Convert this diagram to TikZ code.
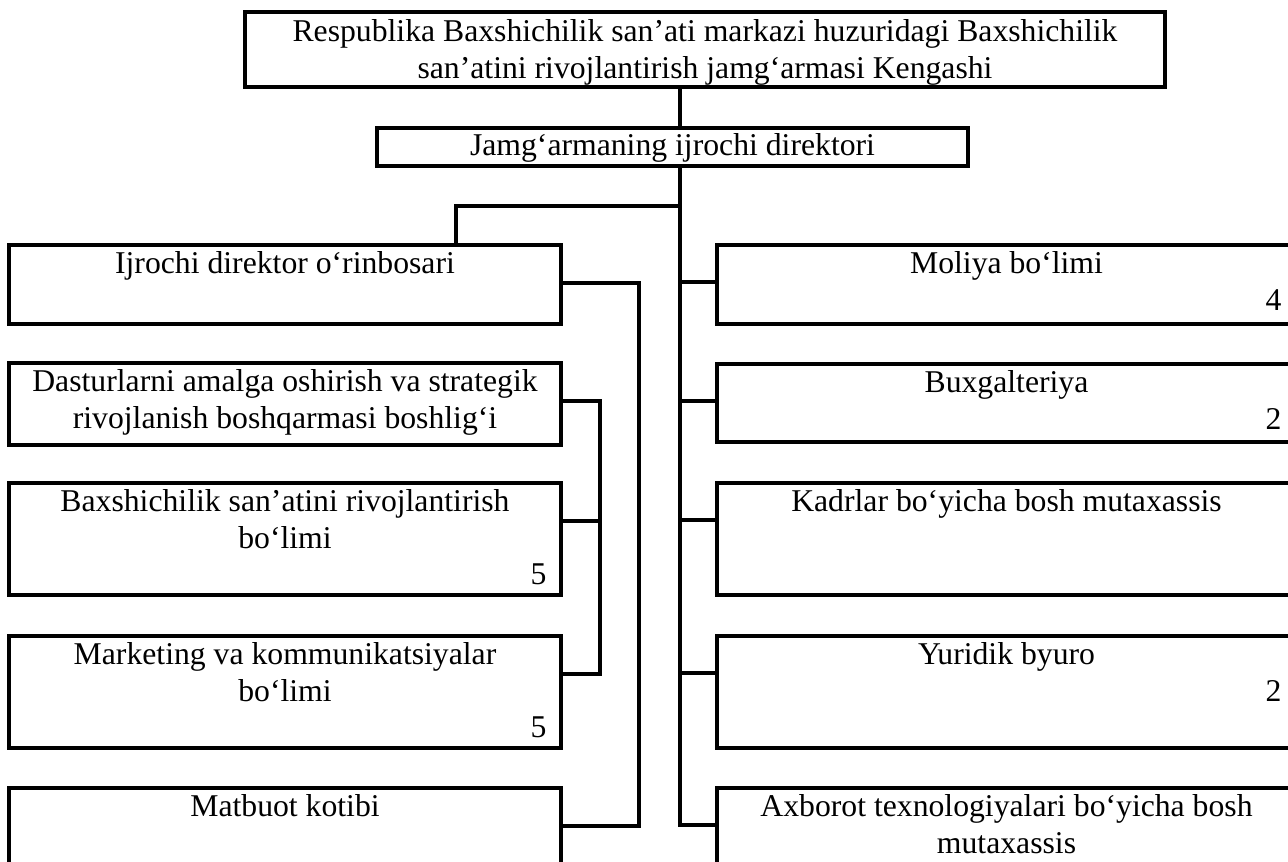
\documentclass[tikz,border=0pt]{standalone}
\usepackage{fontspec}
\setmainfont{Liberation Serif}
\usepackage{tikz}
\usetikzlibrary{calc, positioning}

\begin{document}
\begin{tikzpicture}[x=0.5pt, y=-0.5pt,
        box/.style={draw, rectangle, line width=1.9pt, inner sep=0pt},
        lbox/.style={box, minimum width=276pt},
        rbox/.style={box, minimum width=289.5pt},
        title/.style={anchor=north, align=center, inner sep=0pt,
                font=\fontsize{15.85}{18.5}\selectfont},
        num/.style={anchor=base east, inner sep=0pt,
                font=\fontsize{15.85}{18.5}\selectfont},
        link/.style={line width=1.9pt}]
                \useasboundingbox (0,0) rectangle (1288,861);
                \clip (0,0) rectangle (1288,861);

                % top of the chart
                \node[box, minimum width=460pt, minimum height=37.5pt] (kengash) at (705,49.5) {};
                \node[box, minimum width=295.5pt, minimum height=19pt] (direktor) at (672.5,147) {};

                % left column
                \node[lbox, minimum height=39.5pt] (orinbosar) at (285,284.5) {};
                \node[lbox, minimum height=41pt] (dastur) at (285,404) {};
                \node[lbox, minimum height=56pt] (baxshi) at (285,539) {};
                \node[lbox, minimum height=56pt] (marketing) at (285,692) {};
                \node[lbox, minimum height=56pt] (matbuot) at (285,844) {};

                % right column
                \node[rbox, minimum height=39.5pt] (moliya) at (1006.5,284.5) {};
                \node[rbox, minimum height=39pt] (buxg) at (1006.5,403) {};
                \node[rbox, minimum height=56pt] (kadr) at (1006.5,539) {};
                \node[rbox, minimum height=56pt] (yurist) at (1006.5,692) {};
                \node[rbox, minimum height=56pt] (axborot) at (1006.5,844) {};

                % texts
                \node[title] (kengashT) at ($(kengash.north)+(0,9)$) {Respublika Baxshichilik san’ati markazi huzuridagi Baxshichilik\\san’atini rivojlantirish jamg‘armasi Kengashi};
                \node[title] (direktorT) at ($(direktor.north)+(0,7)$) {Jamg‘armaning ijrochi direktori};
                \node[title] (orinbosarT) at ($(orinbosar.north)+(0,8)$) {Ijrochi direktor o‘rinbosari};
                \node[title] (dasturT) at ($(dastur.north)+(0,8)$) {Dasturlarni amalga oshirish va strategik\\rivojlanish boshqarmasi boshlig‘i};
                \node[title] (baxshiT) at ($(baxshi.north)+(0,8)$) {Baxshichilik san’atini rivojlantirish\\bo‘limi};
                \node[title] (marketingT) at ($(marketing.north)+(0,8)$) {Marketing va kommunikatsiyalar\\bo‘limi};
                \node[title] (matbuotT) at ($(matbuot.north)+(0,8)$) {Matbuot kotibi};
                \node[title] (moliyaT) at ($(moliya.north)+(0,8)$) {Moliya bo‘limi};
                \node[title] (buxgT) at ($(buxg.north)+(0,8)$) {Buxgalteriya};
                \node[title] (kadrT) at ($(kadr.north)+(0,8)$) {Kadrlar bo‘yicha bosh mutaxassis};
                \node[title] (yuristT) at ($(yurist.north)+(0,8)$) {Yuridik byuro};
                \node[title] (axborotT) at ($(axborot.north)+(0,8)$) {Axborot texnologiyalari bo‘yicha bosh\\mutaxassis};

                % staff numbers
                \node[num] (baxshiN) at ($(baxshi.north east)+(-16,103)$) {5};
                \node[num] (marketingN) at ($(marketing.north east)+(-16,103)$) {5};
                \node[num] (moliyaN) at ($(moliya.north east)+(-16,67)$) {4};
                \node[num] (buxgN) at ($(buxg.north east)+(-16,67)$) {2};
                \node[num] (yuristN) at ($(yurist.north east)+(-16,67)$) {2};

                % connection points
                \coordinate (trunk) at (680,0);
                \coordinate (busA) at (600,0);
                \coordinate (busB) at (639,0);
                \coordinate (fork) at (456,206);
                \foreach \b in {orinbosar, dastur, baxshi, marketing, matbuot}
                    \coordinate (\b R) at ($(\b.north east)+(0,40)$);
                \foreach \b in {moliya, buxg, kadr, yurist, axborot}
                    \coordinate (\b L) at ($(\b.north west)+(0,39)$);

                % lines
                \draw[link] (kengash.south -| trunk) -- (direktor.north -| trunk);
                \draw[link] (direktor.south -| trunk) -- (trunk |- axborotL) -- (axborotL);
                \foreach \b in {moliya, buxg, kadr, yurist}
                    \draw[link] (trunk |- \b L) -- (\b L);
                \draw[link] (fork -| trunk) -- (fork) -- (orinbosar.north -| fork);
                \draw[link] (orinbosarR) -- (orinbosarR -| busB) -- (busB |- matbuotR) -- (matbuotR);
                \draw[link] (dasturR) -- (dasturR -| busA) -- (busA |- marketingR) -- (marketingR);
                \draw[link] (baxshiR) -- (baxshiR -| busA);
            \end{tikzpicture}
\end{document}
